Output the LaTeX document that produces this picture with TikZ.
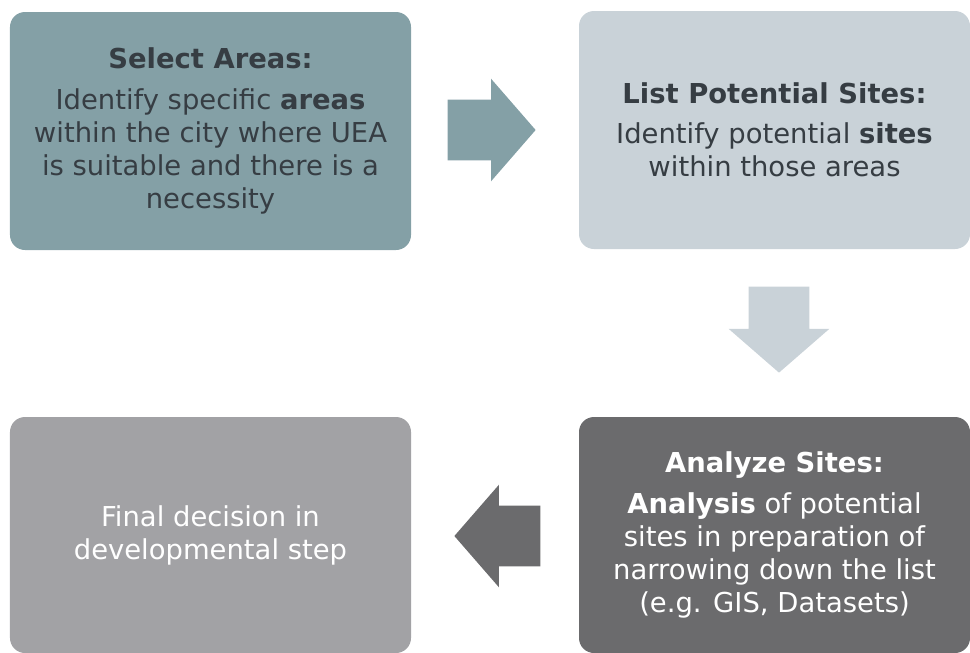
\documentclass[tikz,border=0pt]{standalone}
\usepackage{fontspec}
\setmainfont{DejaVu Sans}
\usetikzlibrary{shapes.arrows,positioning}

\definecolor{selectfill}{HTML}{84A0A6}
\definecolor{listfill}{HTML}{C9D2D8}
\definecolor{analyzefill}{HTML}{6B6B6D}
\definecolor{finalfill}{HTML}{A2A2A5}
\definecolor{darktext}{HTML}{363D43}

\begin{document}
\begin{tikzpicture}[
    x=0.25mm, y=-0.25mm,
    stepbox/.style={rectangle, rounded corners=3.75mm, inner sep=0pt,
      minimum width=100.25mm, minimum height=59.5mm, align=center,
      font=\fontsize{19.5}{23.5}\selectfont},
    blockarrow/.style={single arrow, inner xsep=0pt, inner ysep=7.5mm,
      minimum height=22mm, single arrow head extend=5.25mm,
      single arrow tip angle=98, anchor=tip}
  ]
    \useasboundingbox (0,0) rectangle (970,652);

    % Steps
    \node[stepbox, fill=selectfill, text=darktext] (select) at (210.5,131)
      {\textbf{Select Areas:}\\[5pt]
       Identify specific \textbf{areas}\\
       within the city where UEA\\
       is suitable and there is a\\
       necessity};
    \node[stepbox, fill=listfill, text=darktext, minimum width=97.75mm] (list) at (774.5,130)
      {\textbf{List Potential Sites:}\\[5pt]
       Identify potential \textbf{sites}\\
       within those areas};
    \node[stepbox, fill=analyzefill, text=white, minimum width=97.75mm, minimum height=59mm] (analyze) at (774.5,535)
      {\textbf{Analyze Sites:}\\[5pt]
       \textbf{Analysis} of potential\\
       sites in preparation of\\
       narrowing down the list\\
       (e.g. GIS, Datasets)};
    \node[stepbox, fill=finalfill, text=white, minimum height=59mm] (final) at (210.5,535)
      {Final decision in\\
       developmental step};

    % Block arrows
    \node[blockarrow, fill=selectfill] (toList) at (536,130) {};
    \node[blockarrow, fill=listfill, shape border rotate=270, inner xsep=7.5mm, inner ysep=0pt,
      minimum height=21.5mm, single arrow head extend=5mm] (toAnalyze) at (779,373) {};
    \node[blockarrow, fill=analyzefill, shape border rotate=180, minimum height=21.5mm] (toFinal) at (454,536) {};
  \end{tikzpicture}
\end{document}
